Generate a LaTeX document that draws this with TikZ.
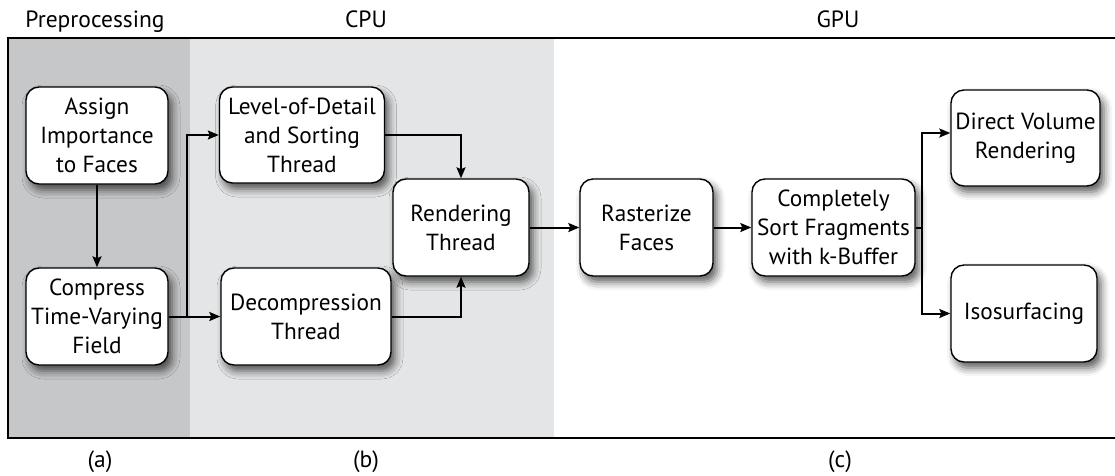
\documentclass[tikz,border=0pt]{standalone}
\usepackage{fontspec}
\setmainfont{PT Sans}
\usetikzlibrary{arrows.meta,shadows.blur}
\definecolor{darkregion}{RGB}{198,199,201}
\definecolor{lightregion}{RGB}{228,229,230}
\tikzset{
  box/.style={draw=black, line width=1.4pt, fill=white, rounded corners=13pt,
    align=center, inner sep=0pt, font=\fontsize{23.3}{29}\selectfont,
    blur shadow={shadow xshift=4pt, shadow yshift=-6pt, shadow blur radius=8pt, shadow opacity=65}},
  arr/.style={line width=2pt, -{Stealth[length=11pt,width=9pt,inset=2pt]}},
  conn/.style={line width=2pt},
  title/.style={anchor=base, font=\fontsize{23.5}{26}\selectfont},
}
\begin{document}
\begin{tikzpicture}[x=1pt,y=-1pt]
\useasboundingbox (0,0) rectangle (1115,475);
% regions
\fill[darkregion] (8,38) rectangle (190,438);
\fill[lightregion] (190,38) rectangle (554,438);
\draw[line width=2.6pt] (1115,38) -- (8,38) -- (8,438) -- (1115,438);
% titles
\node[title] (tpre) at (95,27) {Preprocessing};
\node[title] (tcpu) at (366,27) {CPU};
\node[title] (tgpu) at (838,27) {GPU};
\node[title] (la) at (100,467) {(a)};
\node[title] (lb) at (366,467) {(b)};
\node[title] (lc) at (840,467) {(c)};
% boxes
\node[box, minimum width=142pt, minimum height=97pt] (assign) at (97,135.5) {Assign\\Importance\\to Faces};
\node[box, minimum width=142pt, minimum height=97pt] (compress) at (97,316.5) {Compress\\Time-Varying\\Field};
\node[box, minimum width=165pt, minimum height=96pt] (lod) at (302,135) {Level-of-Detail\\and Sorting\\Thread};
\node[box, minimum width=170pt, minimum height=97pt] (decomp) at (306,316.5) {Decompression\\Thread};
\node[box, minimum width=136pt, minimum height=97pt] (render) at (461,227.5) {Rendering\\Thread};
\node[box, minimum width=133pt, minimum height=97pt] (raster) at (646.5,227.5) {Rasterize\\Faces};
\node[box, minimum width=163pt, minimum height=97pt] (sort) at (833.5,227.5) {Completely\\Sort Fragments\\with k-Buffer};
\node[box, minimum width=149pt, minimum height=96pt] (dvr) at (1025.5,138) {Direct Volume\\Rendering};
\node[box, minimum width=146pt, minimum height=97pt] (iso) at (1024,313.5) {Isosurfacing};
% connectors
\coordinate (split) at (187,316.5);
\coordinate (split2) at (922,227.5);
\draw[arr] (assign) -- (compress);
\draw[arr] (compress.east) -- (decomp.west);
\draw[arr] (split) |- (lod.west);
\draw[arr] (lod.east) -| (render.north);
\draw[arr] (decomp.east) -| (render.south);
\draw[arr] (render) -- (raster);
\draw[arr] (raster) -- (sort);
\draw[conn] (sort.east) -- (split2);
\draw[arr] (split2) |- ([yshift=5pt]dvr.west);
\draw[arr] (split2) |- (iso.west);
\end{tikzpicture}
\end{document}
